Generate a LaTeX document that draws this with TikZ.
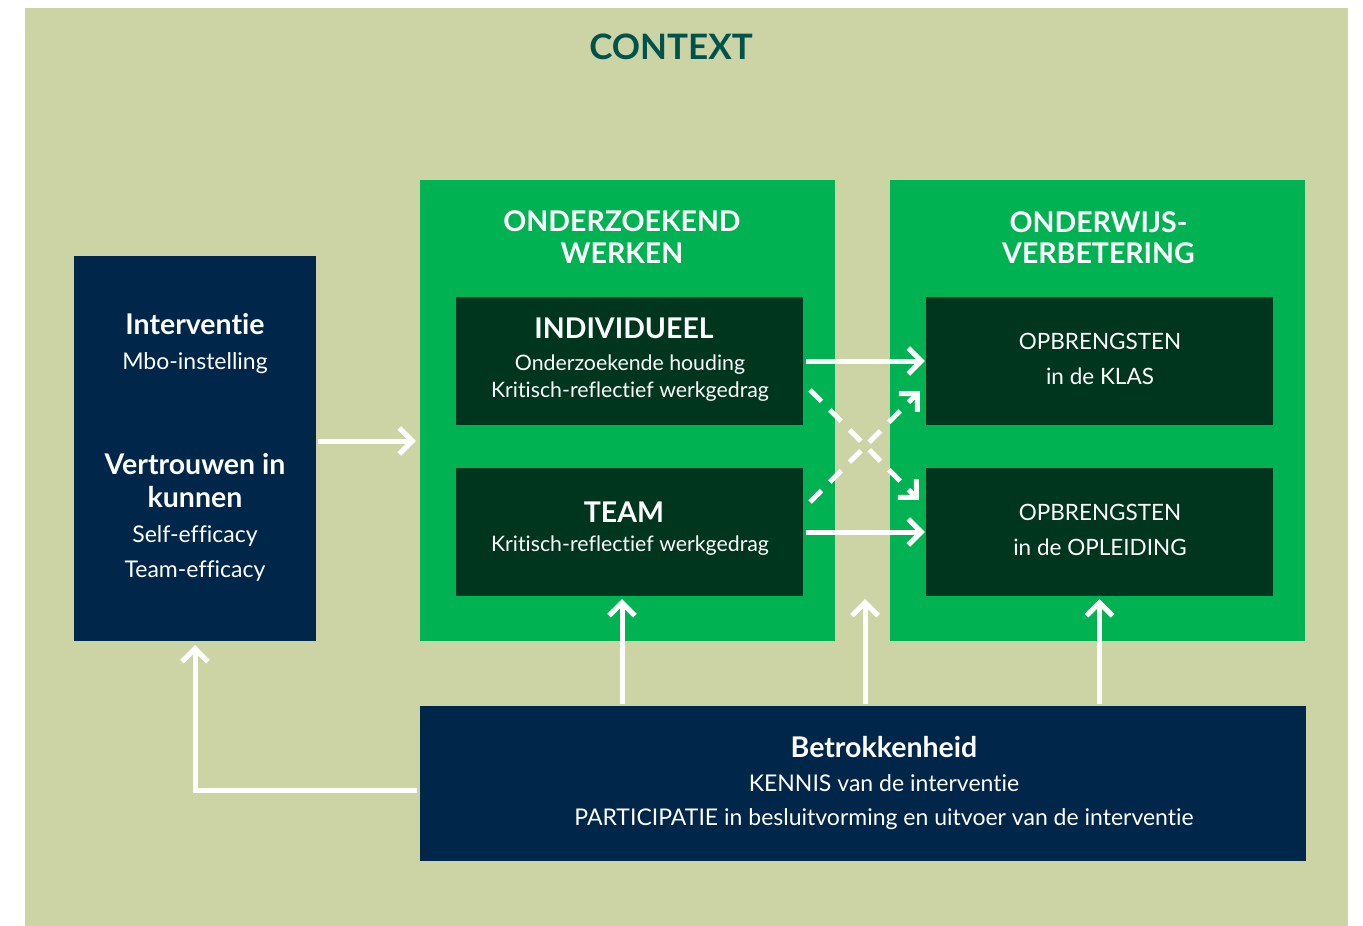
\documentclass[tikz,border=0pt]{standalone}
\usepackage{fontspec}
\setmainfont{Lato}[Ligatures=NoCommon]
\usetikzlibrary{arrows.meta}

\definecolor{contextbg}{RGB}{204,212,166}
\definecolor{contexttitle}{RGB}{0,82,76}
\definecolor{navyblue}{RGB}{0,38,74}
\definecolor{brightgreen}{RGB}{0,178,81}
\definecolor{darkgreen}{RGB}{0,54,30}

\begin{document}
\begin{tikzpicture}[x=1pt, y=-1pt,
    blok/.style={rectangle, draw=none, inner sep=0pt},
    navyblok/.style={blok, fill=navyblue},
    groenblok/.style={blok, fill=brightgreen},
    donkerblok/.style={blok, fill=darkgreen, minimum width=347, minimum height=128},
    titel/.style={anchor=base, inner sep=0pt, text=contexttitle, font=\fontsize{35}{38}\selectfont\bfseries},
    kop/.style={anchor=base, inner sep=0pt, text=white, font=\fontsize{28.5}{32}\selectfont\bfseries},
    tekst/.style={anchor=base, inner sep=0pt, text=white, font=\fontsize{23}{27}\selectfont},
    kleintekst/.style={tekst, font=\fontsize{21.3}{25}\selectfont},
    opbrengst/.style={tekst, font=\fontsize{22.5}{26}\selectfont},
    pijl/.style={draw=white, line width=5pt, -{Straight Barb[sharp, length=13pt, width=26pt]}},
    stippelpijl/.style={pijl, dash pattern=on 16pt off 12pt}]
				\useasboundingbox (0,0) rectangle (1363,926);
				\fill[contextbg] (25,8) rectangle (1348,926);
				\node[titel] (context) at (671,59) {CONTEXT};

				% blokken
				\node[navyblok, minimum width=242, minimum height=385] (interventie) at (195,448.5) {};
				\node[groenblok, minimum width=415, minimum height=461] (onderzoekend) at (627.5,410.5) {};
				\node[groenblok, minimum width=415, minimum height=461] (onderwijs) at (1097.5,410.5) {};
				\node[donkerblok] (individueel) at (629.5,361) {};
				\node[donkerblok] (team) at (629.5,532) {};
				\node[donkerblok] (klas) at (1099.5,361) {};
				\node[donkerblok] (opleiding) at (1099.5,532) {};
				\node[navyblok, minimum width=886, minimum height=155] (betrokkenheid) at (863,783.5) {};

				% teksten
				\node[kop] (interventie-kop) at (195,334) {Interventie};
				\node[tekst] (interventie-tekst) at (195,369) {Mbo-instelling};
				\node[kop] (vertrouwen-kop1) at (195,474) {Vertrouwen in};
				\node[kop] (vertrouwen-kop2) at (195,507) {kunnen};
				\node[tekst] (vertrouwen-tekst1) at (195,542) {Self-efficacy};
				\node[tekst] (vertrouwen-tekst2) at (195,577) {Team-efficacy};

				\node[kop] (onderzoekend-kop1) at (622,231) {ONDERZOEKEND};
				\node[kop] (onderzoekend-kop2) at (622,263) {WERKEN};
				\node[kop] (individueel-kop) at (624,338) {INDIVIDUEEL};
				\node[kleintekst] (individueel-tekst1) at (630,370) {Onderzoekende houding};
				\node[kleintekst] (individueel-tekst2) at (630,397) {Kritisch-reflectief werkgedrag};
				\node[kop] (team-kop) at (624,522) {TEAM};
				\node[kleintekst] (team-tekst) at (630,551) {Kritisch-reflectief werkgedrag};

				\node[kop] (onderwijs-kop1) at (1098.5,232) {ONDERWIJS-};
				\node[kop] (onderwijs-kop2) at (1098.5,263) {VERBETERING};
				\node[opbrengst] (klas-tekst1) at (1100,349) {OPBRENGSTEN};
				\node[opbrengst] (klas-tekst2) at (1100,384) {in de KLAS};
				\node[opbrengst] (opleiding-tekst1) at (1100,520) {OPBRENGSTEN};
				\node[opbrengst] (opleiding-tekst2) at (1100,555) {in de OPLEIDING};

				\node[kop] (betrokkenheid-kop) at (884,757) {Betrokkenheid};
				\node[tekst] (betrokkenheid-tekst1) at (884,791) {KENNIS van de interventie};
				\node[tekst] (betrokkenheid-tekst2) at (884,825) {PARTICIPATIE in besluitvorming en uitvoer van de interventie};

				% pijlen
				\coordinate (midden) at (865,599);
				\draw[pijl, shorten <=2pt, shorten >=4pt] ([yshift=7.5pt]interventie.east) -- ([yshift=7.5pt]interventie.east -| onderzoekend.west);
				\draw[pijl, shorten <=3pt, shorten >=1pt] (individueel.east) -- (klas.west);
				\draw[pijl, shorten <=3pt, shorten >=1pt] (team.east) -- (opleiding.west);
				\draw[stippelpijl] ([xshift=7pt, yshift=-29pt]individueel.east) -- ([xshift=-7pt, yshift=32pt]opleiding.west);
				\draw[stippelpijl] ([xshift=7pt, yshift=30pt]team.east) -- ([xshift=-6pt, yshift=-30pt]klas.west);
				\draw[pijl, shorten <=2pt, shorten >=3pt] ([xshift=-7.5pt]team.south |- betrokkenheid.north) -- ([xshift=-7.5pt]team.south);
				\draw[pijl, shorten <=2pt] (midden |- betrokkenheid.north) -- (midden);
				\draw[pijl, shorten <=2pt, shorten >=3pt] (opleiding.south |- betrokkenheid.north) -- (opleiding.south);
				\draw[pijl, shorten <=3pt, shorten >=4pt] ([yshift=-6.5pt]betrokkenheid.west) -| (interventie.south);
			\end{tikzpicture}
\end{document}
